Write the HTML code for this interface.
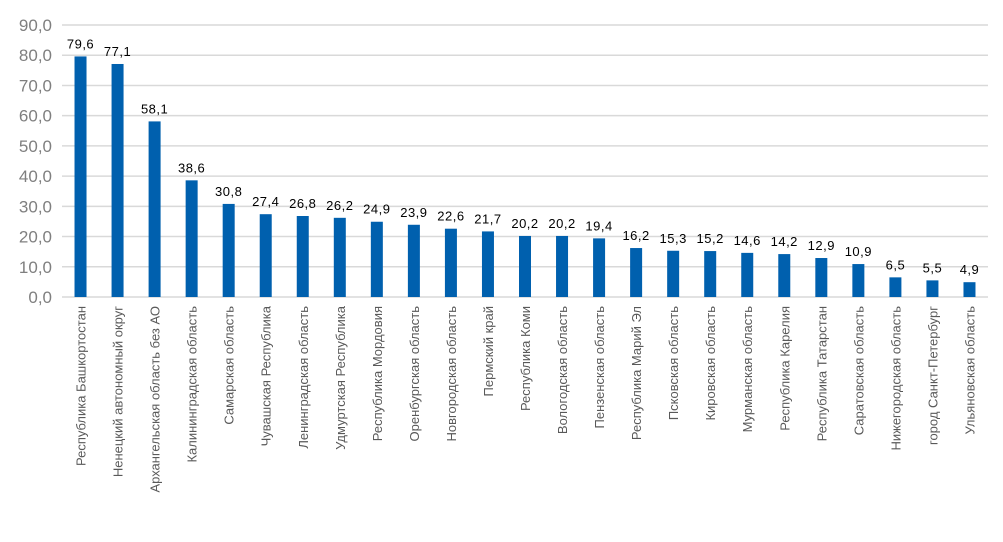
<!DOCTYPE html>
<html><head><meta charset="utf-8"><style>
body{margin:0;background:#fff}
svg{display:block;font-family:"Liberation Sans","DejaVu Sans",sans-serif}
</style></head><body>
<svg id="chart" width="1003" height="542"></svg>
<script>
const categories=["Республика Башкортостан","Ненецкий автономный округ","Архангельская область без АО","Калининградская область","Самарская область","Чувашская Республика","Ленинградская область","Удмуртская Республика","Республика Мордовия","Оренбургская область","Новгородская область","Пермский край","Республика Коми","Вологодская область","Пензенская область","Республика Марий Эл","Псковская область","Кировская область","Мурманская область","Республика Карелия","Республика Татарстан","Саратовская область","Нижегородская область","город Санкт-Петербург","Ульяновская область"];
const values=[79.6,77.1,58.1,38.6,30.8,27.4,26.8,26.2,24.9,23.9,22.6,21.7,20.2,20.2,19.4,16.2,15.3,15.2,14.6,14.2,12.9,10.9,6.5,5.5,4.9];
const yTicks=[0,10,20,30,40,50,60,70,80,90];
const NS="http://www.w3.org/2000/svg";
const svg=document.getElementById('chart');
const left=62,right=988,y0=297,y90=25,yMax=90;
const y=v=>y0-(v/yMax)*(y0-y90);
const n=26;
const step=(right-left)/n;
const x=i=>left+step*(i+0.5);
function mk(t,a){const e=document.createElementNS(NS,t);for(const k in a)e.setAttribute(k,a[k]);svg.appendChild(e);return e;}
yTicks.forEach(t=>{
  const g=mk('line',{x1:left,x2:right,y1:y(t),y2:y(t),stroke:'#d9d9d9','stroke-width':1.5});
  
  
  const l=mk('text',{x:52,y:y(t)+6,'text-anchor':'end','font-size':17,fill:'#7f7f7f'});
  l.textContent=t.toFixed(1).replace('.',',');
  
  
});
const count=Math.min(categories.length,values.length);
const pad=(n-count)/2;
for(let i=0;i<count;i++){
  const cx=left+step*(i+0.5)*n/count;
  const w=12;
  const r=mk('rect',{x:cx-w/2,y:y(values[i]),width:w,height:y0-y(values[i]),fill:'#0060ae'});
  
  
  const v=mk('text',{x:cx,y:y(values[i])-8,'text-anchor':'middle','font-size':13,fill:'#000','letter-spacing':'0.5'});
  v.textContent=values[i].toFixed(1).replace('.',',');
  
  
  const c=mk('text',{x:0,y:0,'text-anchor':'end','font-size':13,fill:'#595959',transform:`translate(${cx+5},306) rotate(-90)`});
  c.textContent=categories[i];
  
  
}
</script>
</body></html>
